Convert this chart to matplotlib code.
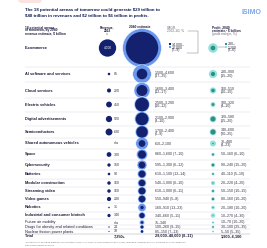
import numpy as np
import matplotlib
matplotlib.use("Agg")
import matplotlib.pyplot as plt
from matplotlib.patches import Circle, Rectangle, FancyBboxPatch

# === data ===
arenas = [
    "E-commerce", "AI software and services", "Cloud services", "Electric vehicles",
    "Digital advertisements", "Semiconductors", "Shared autonomous vehicles", "Space",
    "Cybersecurity", "Batteries", "Modular construction", "Streaming video",
    "Video games", "Robotics", "Industrial and consumer biotech", "Future air mobility",
    "Drugs for obesity and related conditions", "Nuclear fission power plants",
]
rev_2022 = [4000, 85, 220, 450, 520, 630, None, 300, 150, 90, 160, 160, 230, 31, 140, None, 24, 18]
rev_2040_low = [14000, 1500, 1600, 2500, 2100, 1700, 610, 860, 595, 610, 540, 610, 550, 160, 340, 75, 100, 85]
rev_2040_high = [20000, 4600, 3400, 3200, 2900, 2400, 2100, 1600, 1300, 1100, 1000, 1000, 940, 910, 660, 340, 260, 150]
cagr = ["7–9", "17–25", "12–17", "10–12", "8–10", "6–9", "", "7–10", "6–12", "12–14",
        "6–10", "6–11", "5–8", "13–23", "5–11", "", "9–15", "7–13"]
profit_low = [290, 230, 160, 100, 320, 340, 30, 50, 90, 40, 20, 50, 80, 20, 10, 10, 30, 5]
profit_high = [1200, 900, 510, 320, 580, 600, 480, 160, 240, 110, 220, 150, 160, 180, 270, 70, 100, 50]
margin = ["2–6", "15–20", "10–15", "4–10", "15–20", "20–25", "4–23", "6–10", "15–20", "5–10",
          "4–20", "10–15", "10–20", "10–20", "4–30", "10–20", "25–35", "5–35"]
total_2022 = "7,250+"
total_2040 = "29,000–48,000 (8–11)"
total_profit = "1,900–6,100"

# === layout (pixel space) ===
row_y = [48, 74, 90.5, 104.5, 119, 132, 143.5, 154.5, 165, 174, 183, 191, 199,
         207.5, 215.5, 222.5, 227, 231.5]
total_y = 236
X_LABEL, X_R22, X_R22T, X_R40, X_R40T, X_P, X_PT = 25, 109, 113.5, 142, 155, 213, 221

NAVY = "#13216f"
LBLUE = "#6b98ef"
DTEAL = "#2f8f85"
LTEAL = "#8fe3dc"
TXT = "#1c1c3a"
GREY = "#6a6a7a"
K = 0.137  # radius per sqrt($bn)


def rad(v):
    return K * np.sqrt(v)


def fmt(v):
    return f"{v:,}"


fig = plt.figure(figsize=(2.67, 2.48), dpi=100)
ax = fig.add_axes([0, 0, 1, 1])
ax.set_xlim(0, 267)
ax.set_ylim(248, 0)
ax.axis("off")

# faint badge at top
ax.add_patch(FancyBboxPatch((18, -6), 24, 9, boxstyle="round,pad=0,rounding_size=4",
                            fc="#fbe3df", ec="none"))

# title
ax.text(X_LABEL, 10, "The 18 potential arenas of tomorrow could generate $29 trillion to",
        fontsize=3.2, fontweight="bold", color="#0d1a4f", family="Liberation Sans", va="center")
ax.text(X_LABEL, 16, "$48 trillion in revenues and $2 trillion to $6 trillion in profits.",
        fontsize=3.2, fontweight="bold", color="#0d1a4f", family="Liberation Sans", va="center")
ax.text(251, 12, "ISIMO", fontsize=5, fontweight="bold", color="#7fa6e8",
        family="Liberation Sans", ha="center", va="center")

# headers
hd = dict(fontsize=2.3, family="Liberation Sans", va="center", color=TXT)
for i, s in enumerate(["18 potential arenas", "of tomorrow, by 2040", "revenue estimate, $ billion"]):
    ax.text(X_LABEL, 27.5 + i * 3, s, fontweight="bold", **hd)
ax.text(107, 27.5, "Revenue,", ha="center", fontweight="bold", **hd)
ax.text(107, 30.5, "2022", ha="center", fontweight="bold", **hd)
ax.plot([107, 107], [32.5, 35], color=TXT, lw=0.3)
ax.text(140, 27.5, "2040 estimate", ha="center", fontweight="bold", **hd)
ax.text(167, 27.5, "CAGR,", color=GREY, fontsize=2.3, family="Liberation Sans", va="center")
ax.text(167, 30.5, "2022–40, %", color=GREY, fontsize=2.3, family="Liberation Sans", va="center")
ax.plot([188, 198, 198, 187], [30.5, 30.5, 52.5, 52.5], color=GREY, lw=0.3)
ax.text(212, 27.5, "Profit, 2040", fontweight="bold", **hd)
ax.text(212, 30.5, "estimate,¹ $ billion", fontweight="bold", **hd)
ax.text(212, 33.5, "(profit margin, %)", color=GREY, fontsize=2.3, family="Liberation Sans", va="center")

# separators
mids = [(row_y[i] + row_y[i + 1]) / 2 for i in range(len(row_y) - 1)]
mids[0] = 66.5
for m in mids:
    ax.plot([X_LABEL, 250], [m, m], color="#d8d8de", lw=0.3, zorder=0)
ax.plot([X_LABEL, 250], [233.8, 233.8], color="#9a9aa8", lw=0.3, zorder=0)

lab = dict(fontsize=2.8, family="Liberation Sans", va="center", color=TXT)
val = dict(fontsize=2.6, family="Liberation Sans", va="center", color="#333344")

for i, name in enumerate(arenas):
    y = row_y[i]
    ax.text(X_LABEL, y, name, fontweight="bold" if i < 15 else "normal", **lab)

    # revenue 2022
    r22 = rev_2022[i]
    if r22 is None:
        ax.text(X_R22T, y, "n/a", **val)
    elif i == 0:
        ax.add_patch(Circle((107.5, y), rad(r22), fc=NAVY, ec="none", zorder=3))
        ax.text(107.5, y, fmt(r22), ha="center", fontsize=2.3, color="white",
                family="Liberation Sans", va="center", zorder=4)
    else:
        ax.add_patch(Circle((X_R22, y), rad(r22), fc=NAVY, ec="none", zorder=3))
        ax.text(X_R22T, y, fmt(r22), **val)

    # revenue 2040
    ax.add_patch(Circle((X_R40, y), rad(rev_2040_high[i]), fc=LBLUE, ec="white", lw=0.3, zorder=3))
    ax.add_patch(Circle((X_R40, y), rad(rev_2040_low[i]), fc=NAVY, ec="none", zorder=4))

    # profit 2040
    ax.add_patch(Circle((X_P, y), rad(profit_high[i]), fc=LTEAL, ec="none", zorder=3))
    ax.add_patch(Circle((X_P, y), rad(profit_low[i]), fc=DTEAL, ec="none", zorder=4))

    rng = f"{fmt(rev_2040_low[i])}–{fmt(rev_2040_high[i])}"
    prng = f"{fmt(profit_low[i])}–{fmt(profit_high[i])}"
    if i == 0:
        ax.add_patch(Rectangle((168.5, 43.2), 2, 2, fc=NAVY, ec="none"))
        ax.add_patch(Rectangle((168.5, 46.2), 2, 2, fc=LBLUE, ec="none"))
        ax.text(172, 44.2, f"{fmt(rev_2040_low[i])}–", **val)
        ax.text(172, 47.2, fmt(rev_2040_high[i]), **val)
        ax.text(172, 50.2, f"({cagr[i]})", **val)
        ax.plot([X_P + rad(profit_high[i]), 224.5], [y - 1.5, y - 1.5], color=GREY, lw=0.3)
        ax.add_patch(Rectangle((224.5, 43.2), 2, 2, fc=DTEAL, ec="none"))
        ax.add_patch(Rectangle((224.5, 46.2), 2, 2, fc=LTEAL, ec="none"))
        ax.text(228, 44.2, f"{fmt(profit_low[i])}–", **val)
        ax.text(228, 47.2, fmt(profit_high[i]), **val)
        ax.text(228, 50.2, f"({margin[i]})", **val)
    elif i <= 6:
        if cagr[i]:
            ax.text(X_R40T, y - 1.6, rng, **val)
            ax.text(X_R40T, y + 1.6, f"({cagr[i]})", **val)
        else:
            ax.text(X_R40T, y, rng, **val)
        ax.text(X_PT, y - 1.6, prng, **val)
        ax.text(X_PT, y + 1.6, f"({margin[i]})", **val)
    else:
        ax.text(X_R40T, y, rng + (f" ({cagr[i]})" if cagr[i] else ""), **val)
        ax.text(X_PT, y, f"{prng} ({margin[i]})", **val)

# total
ax.text(X_LABEL, total_y, "Total", fontweight="bold", **lab)
ax.text(X_R22T, total_y, total_2022, fontweight="bold", **lab)
ax.text(X_R40T, total_y, total_2040, fontweight="bold", **lab)
ax.text(X_PT, total_y, total_profit, fontweight="bold", **lab)

# footnote
fn = dict(fontsize=1.6, family="Liberation Sans", va="center", color=GREY)
ax.text(X_LABEL, 242.5, "¹Defined as net operating profit less adjusted taxes (NOPLAT). NOPLAT share based "
        "on most closely mappable industries from our database of 3,000 companies", **fn)
ax.text(X_LABEL, 245, "with revenue above $1 billion.", **fn)

fig.savefig("out.png", dpi=100, facecolor="white")
